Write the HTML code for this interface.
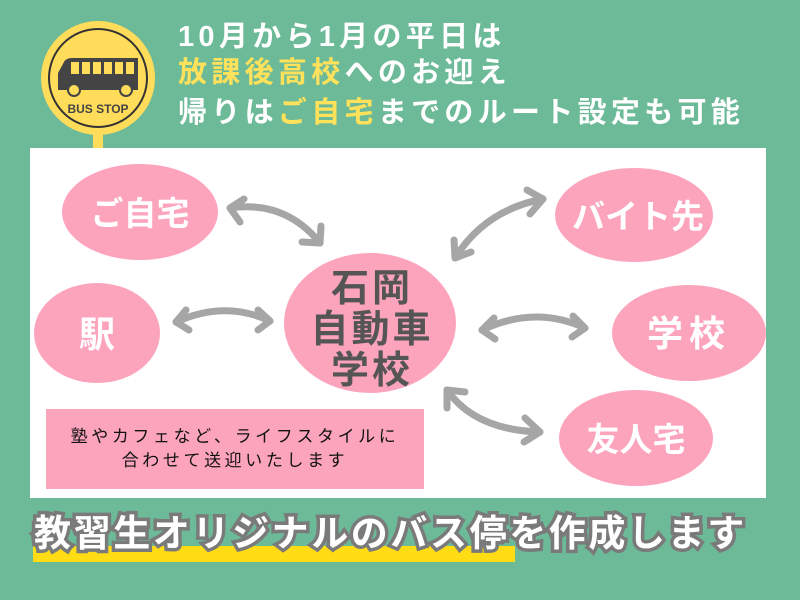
<!DOCTYPE html>
<html><head><meta charset="utf-8"><style>
*{margin:0;padding:0}
body{width:800px;height:600px;background:#6dba98;position:relative;overflow:hidden;font-family:"Liberation Sans","Noto Sans CJK JP",sans-serif}
.t{position:absolute;left:178px;color:#fff;font-weight:bold;font-size:29px;line-height:36px;white-space:nowrap;letter-spacing:4.3px}
.y{color:#ffe15a}
.panel{position:absolute;left:30px;top:148px;width:736px;height:350px;background:#fff}
.box{position:absolute;left:46px;top:409px;width:378px;height:80px;background:#fda4bd;color:#111;font-size:17px;line-height:24px;text-align:center;letter-spacing:3.6px;padding-top:16px;box-sizing:border-box}
.bar{position:absolute;left:33px;top:546px;width:482px;height:16px;background:#ffdc14}
.bt{position:absolute;left:34px;top:503px;font-size:37px;font-weight:bold;color:#fff;white-space:nowrap;-webkit-text-stroke:7px #7a7a7a;paint-order:stroke fill;letter-spacing:2.6px}
</style></head><body>
<div class="t" style="top:19px">10月から1月の平日は</div>
<div class="t" style="top:55px"><span class="y">放課後高校</span>へのお迎え</div>
<div class="t" style="top:95px">帰りは<span class="y">ご自宅</span>までのルート設定も可能</div>

<svg style="position:absolute;left:0;top:0" width="200" height="160">
<rect x="93" y="125" width="10" height="25" fill="#ffdc5a"/>
<circle cx="98" cy="78" r="57" fill="#ffdc5a"/>
<circle cx="98" cy="78" r="49" fill="none" stroke="#333" stroke-width="2"/>
<path d="M64 62 Q66 58 72 58 L138 58 L138 90 L58 90 L58 73 Z" fill="#444"/>
<g fill="#ffdc5a"><rect x="71" y="62" width="8" height="12"/><rect x="82" y="62" width="8" height="12"/><rect x="93" y="62" width="8" height="12"/><rect x="104" y="62" width="8" height="12"/><rect x="115" y="62" width="8" height="12"/><rect x="126" y="62" width="8" height="12"/></g>
<circle cx="74" cy="90" r="6" fill="#ffdc5a" stroke="#444" stroke-width="2"/>
<circle cx="126" cy="90" r="6" fill="#ffdc5a" stroke="#444" stroke-width="2"/>
<text x="98" y="113" text-anchor="middle" font-family="Liberation Sans" font-weight="bold" font-size="12" fill="#444">BUS STOP</text>
</svg>

<div class="panel"></div>
<svg style="position:absolute;left:0;top:0" width="800" height="600">
<g fill="#fda4bd">
<ellipse cx="140" cy="212" rx="78" ry="48"/>
<ellipse cx="97" cy="333" rx="63" ry="50"/>
<ellipse cx="370" cy="323" rx="86" ry="70"/>
<ellipse cx="634" cy="215" rx="79" ry="47"/>
<ellipse cx="689" cy="333" rx="77" ry="48"/>
<ellipse cx="636" cy="438" rx="77" ry="48"/>
</g>
<g fill="none" stroke="#a6a6a6" stroke-width="7" stroke-linecap="round" stroke-linejoin="round">
<path d="M230 208 Q285 200 320 243"/><path d="M244 199 L230 208 L240 222"/><path d="M302 242 L320 243 L321 226"/>
<path d="M176 322 Q225 300 270 321"/><path d="M186 310 L176 322 L189 330"/><path d="M258 310 L270 321 L258 330"/>
<path d="M455 258 Q485 210 543 199"/><path d="M454 240 L455 258 L471 252"/><path d="M527 190 L543 199 L530 214"/>
<path d="M482 330 Q535 305 585 328"/><path d="M494 318 L482 330 L495 339"/><path d="M573 316 L585 328 L572 337"/>
<path d="M447 390 Q475 430 540 432"/><path d="M447 390 L465 392"/><path d="M447 390 L447 408"/><path d="M525 418 L540 432 L524 442"/>
</g>
<g font-family="Liberation Sans,Noto Sans CJK JP,sans-serif" font-weight="bold" text-anchor="middle">
<text x="140" y="225" font-size="33" fill="#fff">ご自宅</text>
<text x="97" y="347" font-size="36" fill="#fff">駅</text>
<text x="638" y="228" font-size="33" fill="#fff">バイト先</text>
<text x="689" y="346" font-size="36" fill="#fff" letter-spacing="6">学校</text>
<text x="636" y="451" font-size="33" fill="#fff">友人宅</text>
<g font-size="38" fill="#555">
<text x="372" y="301" letter-spacing="3">石岡</text>
<text x="372" y="342" letter-spacing="3">自動車</text>
<text x="372" y="383" letter-spacing="3">学校</text>
</g>
</g>
</svg>
<div class="box">塾やカフェなど、ライフスタイルに<br>合わせて送迎いたします</div>
<div class="bar"></div>
<div class="bt">教習生オリジナルのバス停を作成します</div>
</body></html>
